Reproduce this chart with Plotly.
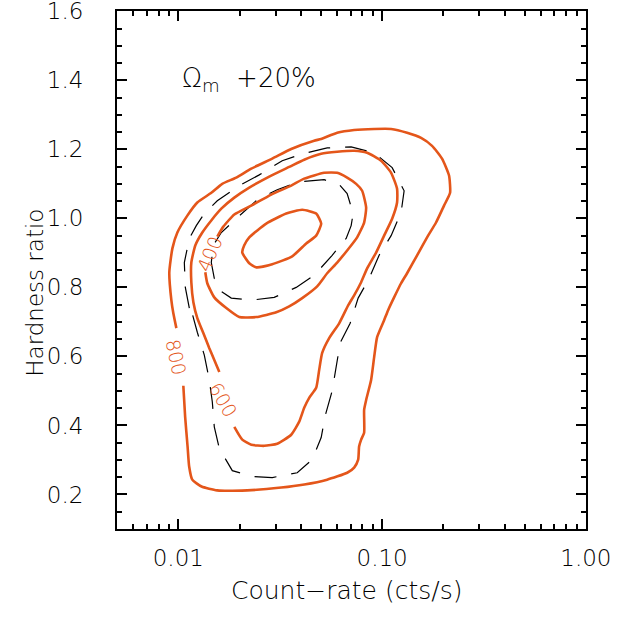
import numpy as np
import plotly.graph_objects as go

# ---------------- data ----------------
# Contour level 800 (orange, open at its label)
c800_x = [0.00978, 0.00945, 0.00924, 0.00903, 0.00935, 0.00989, 0.01107, 0.01239, 0.01451, 0.01643,
          0.01924, 0.02279, 0.02889, 0.0358, 0.0464, 0.0502, 0.0602, 0.0729, 0.0914, 0.1107,
          0.1326, 0.1553, 0.1758, 0.1968, 0.2130, 0.2155, 0.2013, 0.1839, 0.1662, 0.1485,
          0.1326, 0.1239, 0.1145, 0.1070, 0.1023, 0.0945, 0.0914, 0.0883, 0.0835, 0.0816,
          0.0816, 0.0789, 0.0771, 0.0763, 0.0729, 0.0674, 0.0537, 0.0415, 0.0320, 0.0218,
          0.0155, 0.0130, 0.0117, 0.0113, 0.0111, 0.0108, 0.01058]
c800_y = [0.682, 0.725, 0.763, 0.844, 0.913, 0.959, 1.008, 1.046, 1.074, 1.100,
          1.118, 1.144, 1.173, 1.201, 1.225, 1.230, 1.248, 1.256, 1.259, 1.259,
          1.248, 1.233, 1.210, 1.173, 1.124, 1.074, 1.037, 0.988, 0.945, 0.893,
          0.841, 0.812, 0.771, 0.734, 0.705, 0.656, 0.598, 0.532, 0.474, 0.445,
          0.379, 0.359, 0.339, 0.301, 0.278, 0.263, 0.243, 0.229, 0.220, 0.212,
          0.212, 0.223, 0.243, 0.281, 0.339, 0.425, 0.515]

# Contour level 600
c600_x = [0.01589, 0.01501, 0.01419, 0.01326, 0.01239, 0.01185, 0.01158, 0.01158, 0.01212, 0.01311,
          0.01451, 0.01625, 0.01882, 0.02229, 0.02793, 0.0350, 0.04146, 0.05023, 0.06017, 0.0729,
          0.08442, 0.09887, 0.1107, 0.1184, 0.1184, 0.1120, 0.1023, 0.09345, 0.08442, 0.0789,
          0.0729, 0.06813, 0.06155, 0.05498, 0.0508, 0.04911, 0.04747, 0.04387, 0.04146, 0.03919,
          0.0358, 0.03057, 0.0264, 0.0228, 0.02059, 0.01882]
c600_y = [0.555, 0.590, 0.624, 0.668, 0.711, 0.757, 0.815, 0.872, 0.922, 0.959,
          0.994, 1.028, 1.060, 1.089, 1.121, 1.149, 1.170, 1.187, 1.193, 1.196,
          1.190, 1.167, 1.132, 1.086, 1.046, 0.999, 0.950, 0.901, 0.855, 0.815,
          0.777, 0.748, 0.696, 0.653, 0.610, 0.561, 0.509, 0.480, 0.451, 0.411,
          0.373, 0.347, 0.341, 0.344, 0.359, 0.396]

# Contour level 400
c400_x = [0.01553, 0.01662, 0.01882, 0.0228, 0.02857, 0.0358, 0.04146, 0.05196, 0.06017, 0.06736,
          0.07457, 0.07979, 0.08348, 0.08161, 0.07541, 0.06736, 0.06017, 0.05375, 0.04801, 0.04054,
          0.0350, 0.03023, 0.02412, 0.01991, 0.01719, 0.01501, 0.01387, 0.01356]
c400_y = [0.947, 0.976, 1.011, 1.037, 1.069, 1.095, 1.115, 1.132, 1.132, 1.118,
          1.100, 1.080, 1.031, 0.988, 0.945, 0.907, 0.872, 0.841, 0.803, 0.769,
          0.745, 0.728, 0.714, 0.714, 0.740, 0.771, 0.812, 0.844]

# Contour level 200 (closed)
c200_x = [0.02059, 0.02229, 0.02412, 0.02889, 0.03621, 0.04241, 0.04747, 0.05023, 0.04747, 0.04054,
          0.03384, 0.0270, 0.02229, 0.02106, 0.02059]
c200_y = [0.901, 0.870, 0.858, 0.867, 0.890, 0.927, 0.950, 0.985, 1.014, 1.025,
          1.014, 0.985, 0.945, 0.922, 0.901]

# Reference (dashed) contours
d600_x = [0.01132, 0.01082, 0.0107, 0.01132, 0.01225, 0.01341, 0.01553, 0.01991, 0.02495, 0.03234,
          0.04054, 0.05375, 0.07047, 0.09136, 0.1120, 0.1282, 0.1239, 0.1107, 0.09667, 0.08635,
          0.07627, 0.06968, 0.06224, 0.0595, 0.05687, 0.05255, 0.05023, 0.04538, 0.03831, 0.02889,
          0.02306, 0.0184, 0.01589, 0.01501, 0.01468, 0.01419, 0.01341, 0.01239, 0.01158, 0.01132]
d600_y = [0.740, 0.800, 0.872, 0.942, 0.979, 1.014, 1.051, 1.095, 1.126, 1.167,
          1.187, 1.204, 1.207, 1.190, 1.147, 1.080, 1.017, 0.950, 0.893, 0.826,
          0.769, 0.696, 0.639, 0.567, 0.500, 0.428, 0.365, 0.301, 0.263, 0.249,
          0.252, 0.269, 0.333, 0.396, 0.468, 0.532, 0.604, 0.670, 0.734, 0.740]

d400_x = [0.01501, 0.01451, 0.01484, 0.01625, 0.01946, 0.02439, 0.03057, 0.03919, 0.05196, 0.06155,
          0.06736, 0.07208, 0.07047, 0.06661, 0.05687, 0.04642, 0.03788, 0.02955, 0.0228, 0.01819,
          0.01589, 0.01501]
d400_y = [0.826, 0.872, 0.922, 0.959, 1.002, 1.054, 1.083, 1.106, 1.112, 1.098,
          1.072, 1.014, 0.979, 0.942, 0.893, 0.835, 0.800, 0.771, 0.763, 0.769,
          0.792, 0.826]

# Contour labels: text, x, y, angle
lab_text = ["800", "600", "400"]
lab_x = [0.00974, 0.01662, 0.01419]
lab_y = [0.598, 0.474, 0.898]
lab_ang = [78, 60, -68]

x_tickvals = [0.01, 0.1, 1.0]
x_ticktext = ["0.01", "0.10", "1.00"]
x_minor = [0.006, 0.007, 0.008, 0.009, 0.02, 0.03, 0.04, 0.05, 0.06, 0.07, 0.08, 0.09,
           0.2, 0.3, 0.4, 0.5, 0.6, 0.7, 0.8, 0.9]
y_tickvals = [0.2, 0.4, 0.6, 0.8, 1.0, 1.2, 1.4, 1.6]
y_ticktext = ["0.2", "0.4", "0.6", "0.8", "1.0", "1.2", "1.4", "1.6"]

ORANGE = "#E4561A"
FONT = "DejaVu Sans"
WEIGHT = 200

fig = go.Figure()
for xs, ys in [(d600_x, d600_y), (d400_x, d400_y)]:
    fig.add_trace(go.Scatter(x=xs, y=ys, mode="lines",
                             line=dict(color="black", width=1.2, dash="22px,15px"),
                             hoverinfo="skip", showlegend=False))
for xs, ys in [(c800_x, c800_y), (c600_x, c600_y), (c400_x, c400_y), (c200_x, c200_y)]:
    fig.add_trace(go.Scatter(x=xs, y=ys, mode="lines",
                             line=dict(color=ORANGE, width=2.6, shape="spline", smoothing=0.5),
                             hoverinfo="skip", showlegend=False))

for t, x, y, a in zip(lab_text, lab_x, lab_y, lab_ang):
    fig.add_annotation(x=np.log10(x), y=y, xref="x", yref="y", text=t, textangle=a,
                       showarrow=False, font=dict(family=FONT, weight=WEIGHT, size=19, color=ORANGE))

fig.add_annotation(x=0.134, y=0.867, xref="paper", yref="paper", xanchor="left", yanchor="middle",
                   text="Ω<sub>m</sub>  +20%", showarrow=False,
                   font=dict(family=FONT, weight=WEIGHT, size=26, color="black"))
fig.add_annotation(x=-0.175, y=0.456, xref="paper", yref="paper", textangle=-90,
                   xanchor="center", yanchor="middle",
                   text="Hardness ratio", showarrow=False,
                   font=dict(family=FONT, weight=WEIGHT, size=23, color="black"))
fig.add_annotation(x=0.49, y=-0.118, xref="paper", yref="paper", xanchor="center", yanchor="middle",
                   text="Count\u2212rate (cts/s)", showarrow=False,
                   font=dict(family=FONT, weight=WEIGHT, size=25, color="black"))

axis_common = dict(showline=True, linecolor="black", linewidth=2, mirror="ticks",
                   ticks="inside", ticklen=10, tickwidth=1.5, tickcolor="black",
                   showgrid=False, zeroline=False, automargin=False,
                   ticklabeloverflow="allow",
                   tickfont=dict(family=FONT, weight=WEIGHT, size=23, color="black"))

fig.update_xaxes(type="log", range=[np.log10(0.005), 0.0005],
                 tickmode="array", tickvals=x_tickvals, ticktext=x_ticktext,
                 ticklabelstandoff=7,
                 minor=dict(tickmode="array", tickvals=x_minor, ticks="inside", ticklen=5,
                            tickwidth=1.5, tickcolor="black", showgrid=False),
                 **axis_common)
fig.update_yaxes(range=[0.1, 1.6008], tickmode="array", tickvals=y_tickvals, ticktext=y_ticktext,
                 ticklabelstandoff=27,
                 minor=dict(dtick=0.05, ticks="inside", ticklen=5, tickwidth=1.5,
                            tickcolor="black", showgrid=False),
                 **axis_common)

fig.update_layout(width=625, height=619, margin=dict(l=117, r=39, t=11, b=90, autoexpand=False),
                  plot_bgcolor="white", paper_bgcolor="white", showlegend=False)

# remove the default page margin so the figure fills the window exactly
fig.write_html("out.html", config={"displayModeBar": False},
               post_script="document.body.style.margin='0';")
